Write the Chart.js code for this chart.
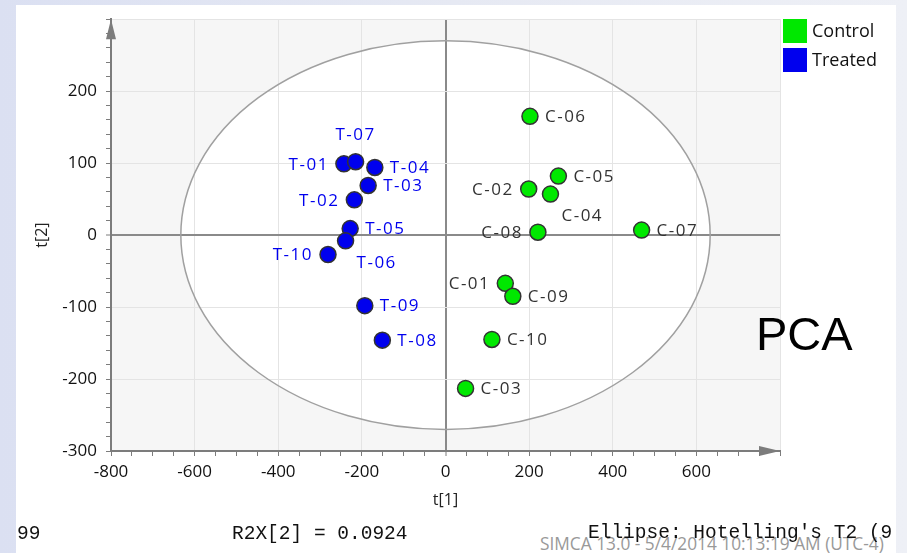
<!DOCTYPE html>
<html>
<head>
<meta charset="utf-8">
<script src="https://cdn.jsdelivr.net/npm/chart.js@4"></script>
<style>
html,body{margin:0;padding:0;}
body{width:907px;height:553px;overflow:hidden;position:relative;
background:linear-gradient(90deg,#dbe0f2 0%,#e6e9f3 50%,#eef0f6 100%);}
#panel{position:absolute;left:16px;top:5px;width:880px;height:548px;background:#fff;}
#chart{position:absolute;left:0;top:0;}
.lg{position:absolute;left:783px;width:24px;height:24px;}
.lt{position:absolute;left:812px;font:18px "Open Sans";color:#111;line-height:24px;}
.mono{position:absolute;font:19.5px "Liberation Mono";color:#111;white-space:nowrap;line-height:22px;}
#simca{position:absolute;left:540px;top:532px;font:17.3px "Open Sans";color:#999;white-space:nowrap;}
#pca{position:absolute;left:756px;top:306px;font:47px "Liberation Sans";color:#000;}
</style>
</head>
<body>
<div id="panel"></div>
<div id="simca">SIMCA 13.0 - 5/4/2014 10:13:19 AM (UTC-4)</div>
<canvas id="chart" width="907" height="553"></canvas>
<div id="pca">PCA</div>
<div id="legend"></div>
<div class="mono" style="left:17px;top:523px;">99</div>
<div class="mono" style="left:232px;top:523px;">R2X[2] = 0.0924</div>
<div class="mono" style="left:588px;top:522px;width:308px;overflow:hidden;">Ellipse: Hotelling's T2 (9</div>
<script>
// scores
const controlNames = ["C-01","C-02","C-03","C-04","C-05","C-06","C-07","C-08","C-09","C-10"]
const controlT1 = [143,199,48,251,270,202,469,221,161,111]
const controlT2 = [-67,64,-213,57,82,165,7,4,-85,-145]
const controlSide = ["left","left","right","below","right","right","right","left","right","right"]

const treatedNames = ["T-01","T-02","T-03","T-04","T-05","T-06","T-07","T-08","T-09","T-10"]
const treatedT1 = [-243,-218,-185,-169,-228,-239,-215,-151,-193,-281]
const treatedT2 = [99,49,69,94,9,-8,102,-146,-98,-27]
const treatedSide = ["left","left","right","right","right","below","above","right","right","left"]

const groups = ["Control","Treated"]
const groupColors = ["#00e800","#0000ee"]
const labelColors = ["#333333","#0000ee"]

// Hotelling T2 ellipse half axes
const ellipseT1 = 633
const ellipseT2 = 270

const xMin = -800, xMax = 800
const yMin = -300, yMax = 300

function pts(a,b){
return a.map((v,i)=>({x:v,y:b[i]}))
}

const names = [controlNames,treatedNames]
const sides = [controlSide,treatedSide]

// legend
let lg = ""
groups.forEach((g,i)=>{
lg += '<div class="lg" style="top:'+(19+29*i)+'px;background:'+groupColors[i]+'"></div>'
lg += '<div class="lt" style="top:'+(18+29*i)+'px">'+g+'</div>'
})
document.getElementById("legend").innerHTML = lg

const backPlugin = {
id:"back",
beforeDraw(chart){
const {ctx,chartArea:a,scales:{x,y}} = chart
ctx.save()
ctx.fillStyle = "#f6f6f6"
ctx.fillRect(a.left,a.top,a.right-a.left,a.bottom-a.top)
const cx = x.getPixelForValue(0), cy = y.getPixelForValue(0)
const rx = x.getPixelForValue(ellipseT1)-cx
const ry = cy-y.getPixelForValue(ellipseT2)
ctx.beginPath()
ctx.ellipse(cx,cy,rx,ry,0,0,Math.PI*2)
ctx.fillStyle = "#fff"
ctx.fill()
ctx.restore()
},
beforeDatasetsDraw(chart){
const {ctx,scales:{x,y}} = chart
const cx = x.getPixelForValue(0), cy = y.getPixelForValue(0)
const rx = x.getPixelForValue(ellipseT1)-cx
const ry = cy-y.getPixelForValue(ellipseT2)
ctx.save()
ctx.beginPath()
ctx.ellipse(cx,cy,rx,ry,0,0,Math.PI*2)
ctx.strokeStyle = "#a0a0a0"
ctx.lineWidth = 1.5
ctx.stroke()
ctx.restore()
},
afterDatasetsDraw(chart){
const ctx = chart.ctx
ctx.save()
ctx.font = '17px "Open Sans"'
ctx.letterSpacing = "1.5px"
ctx.textBaseline = "middle"
chart.data.datasets.forEach((ds,i)=>{
const meta = chart.getDatasetMeta(i)
ctx.fillStyle = labelColors[i]
meta.data.forEach((el,j)=>{
const s = sides[i][j], t = names[i][j]
if(s=="right"){ctx.textAlign="left";ctx.fillText(t,el.x+15,el.y+1)}
if(s=="left"){ctx.textAlign="right";ctx.fillText(t,el.x-15,el.y+1)}
if(s=="above"){ctx.textAlign="center";ctx.fillText(t,el.x,el.y-27)}
if(s=="below"){ctx.textAlign="left";ctx.fillText(t,el.x+11,el.y+22)}
})
})
ctx.restore()
},
afterDraw(chart){
const {ctx,chartArea:a} = chart
ctx.save()
ctx.fillStyle = "#7c7c7c"
ctx.beginPath()
ctx.moveTo(a.left,a.top)
ctx.lineTo(a.left-5,a.top+20)
ctx.lineTo(a.left+5,a.top+20)
ctx.fill()
ctx.beginPath()
ctx.moveTo(a.right,a.bottom)
ctx.lineTo(a.right-21,a.bottom-5)
ctx.lineTo(a.right-21,a.bottom+5)
ctx.fill()
ctx.restore()
}
}

function gridColor(step){
return c=>{
const v = c.tick.value
if(v==0) return "#8a8a8a"
if(v%step==0) return "#e4e4e4"
return "rgba(0,0,0,0)"
}
}

new Chart(document.getElementById("chart"),{
type:"scatter",
data:{
datasets:[{
label:groups[0],
data:pts(controlT1,controlT2),
backgroundColor:groupColors[0],
borderColor:"#333",
borderWidth:1.5,
pointRadius:8,
pointHoverRadius:8
},{
label:groups[1],
data:pts(treatedT1,treatedT2),
backgroundColor:groupColors[1],
borderColor:"#333",
borderWidth:1.5,
pointRadius:8,
pointHoverRadius:8
}]
},
options:{
responsive:false,
animation:false,
layout:{padding:{left:0,top:16,right:127,bottom:0}},
plugins:{legend:{display:false},tooltip:{enabled:false}},
scales:{
x:{
type:"linear",min:xMin,max:xMax,
afterFit(s){s.height = 102},
ticks:{stepSize:50,autoSkip:false,maxRotation:0,padding:6,color:"#111",
font:{family:"Open Sans",size:17},
callback:v=>(v%200==0 && v!=xMax)?v:""},
grid:{color:gridColor(200),lineWidth:c=>c.tick.value==0?2:1,
tickLength:5,tickColor:"#7c7c7c",tickWidth:1},
border:{color:"#7c7c7c",width:2},
title:{display:true,text:"t[1]",color:"#222",font:{family:"Open Sans",size:16},padding:{top:0,bottom:43}}
},
y:{
type:"linear",min:yMin,max:yMax,
afterFit(s){s.width = 111},
ticks:{stepSize:20,autoSkip:false,padding:9,color:"#111",
font:{family:"Open Sans",size:17},
callback:v=>(v%100==0 && v!=yMax)?v:""},
grid:{color:gridColor(100),lineWidth:c=>c.tick.value==0?2:1,
tickLength:5,tickColor:"#7c7c7c",tickWidth:1},
border:{color:"#7c7c7c",width:2},
title:{display:true,text:"t[2]",color:"#222",font:{family:"Open Sans",size:16},padding:{top:33,bottom:0}}
}
}
},
plugins:[backPlugin]
})
</script>
</body>
</html>
